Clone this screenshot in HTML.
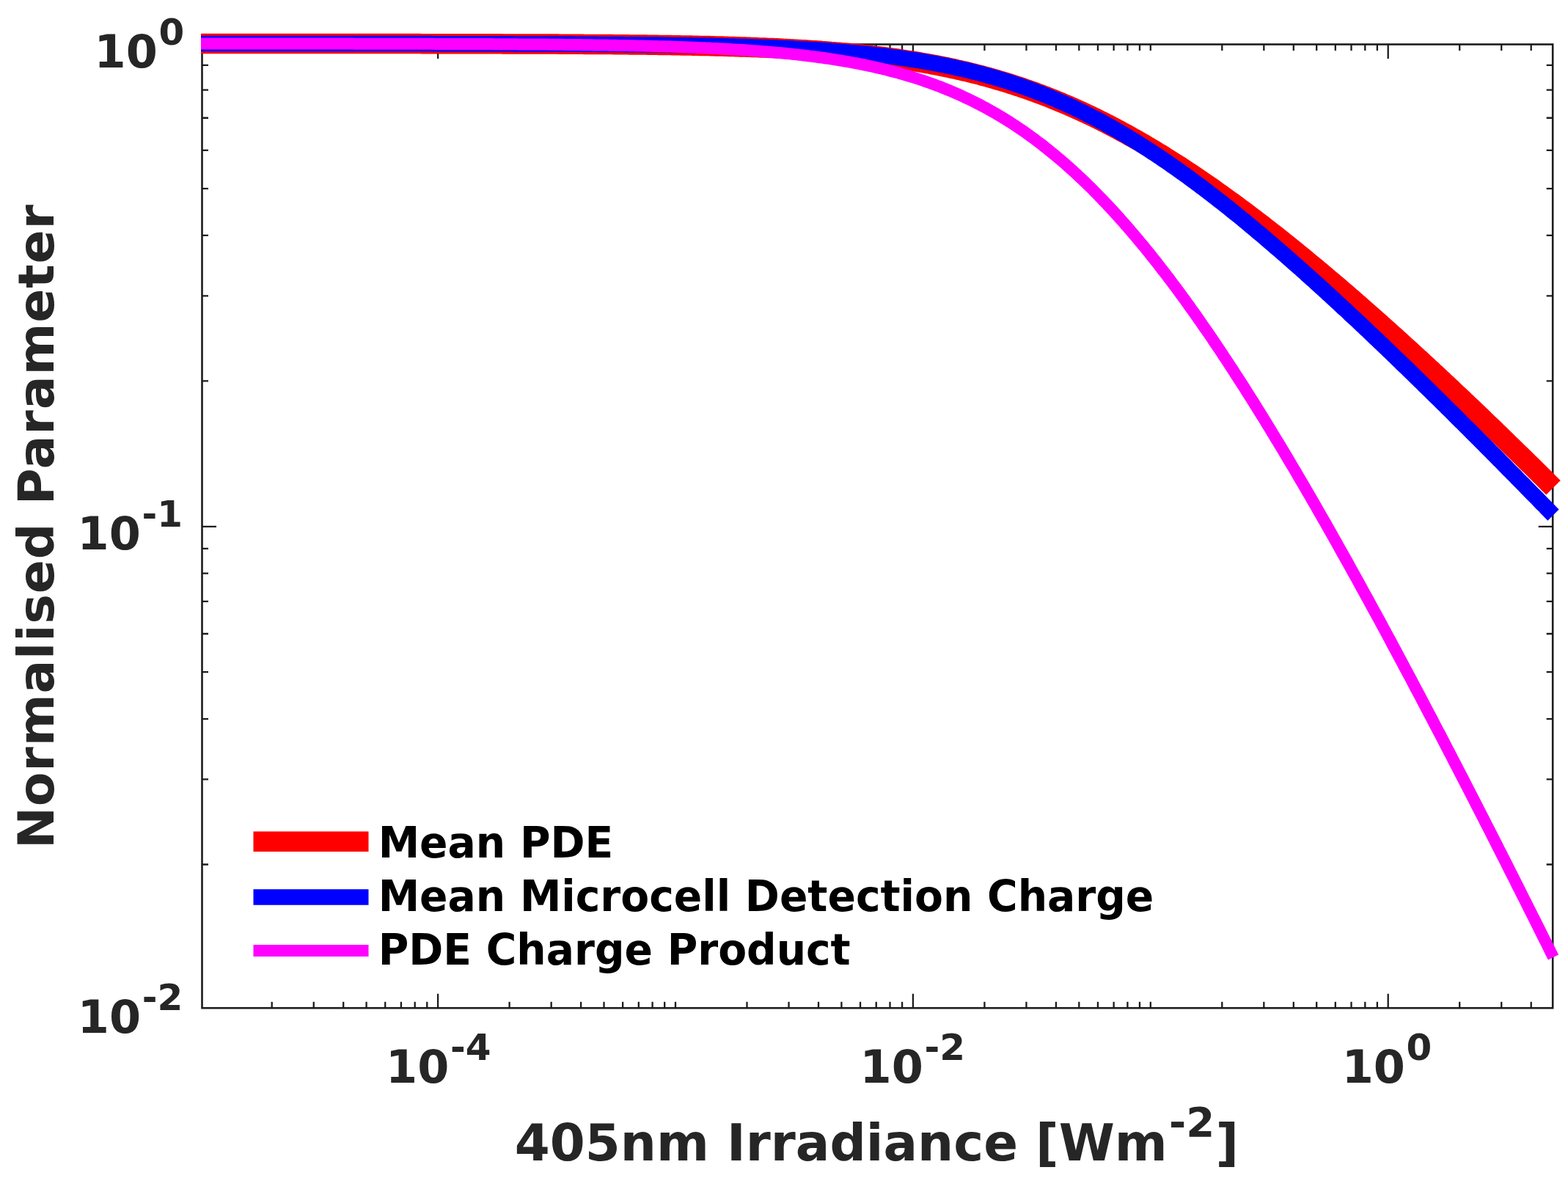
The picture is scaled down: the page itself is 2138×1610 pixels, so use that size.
<!DOCTYPE html><html><head><meta charset="utf-8"><style>html,body{margin:0;padding:0;background:#fff;width:2138px;height:1610px;overflow:hidden}svg{display:block}</style></head><body><svg width="2138" height="1610" viewBox="0 0 2138 1610">
<rect width="2138" height="1610" fill="#fff"/>
<rect x="275.5" y="60.5" width="1841.6999999999998" height="1313.7" fill="none" stroke="#1c1c1c" stroke-width="2.6"/>
<path d="M370.70,1374.2V1365.70M370.70,60.5V69.00M427.74,1374.2V1365.70M427.74,60.5V69.00M468.21,1374.2V1365.70M468.21,60.5V69.00M499.60,1374.2V1365.70M499.60,60.5V69.00M525.24,1374.2V1365.70M525.24,60.5V69.00M546.93,1374.2V1365.70M546.93,60.5V69.00M565.71,1374.2V1365.70M565.71,60.5V69.00M582.28,1374.2V1365.70M582.28,60.5V69.00M597.10,1374.2V1354.70M597.10,60.5V80.00M694.60,1374.2V1365.70M694.60,60.5V69.00M751.64,1374.2V1365.70M751.64,60.5V69.00M792.11,1374.2V1365.70M792.11,60.5V69.00M823.50,1374.2V1365.70M823.50,60.5V69.00M849.14,1374.2V1365.70M849.14,60.5V69.00M870.83,1374.2V1365.70M870.83,60.5V69.00M889.61,1374.2V1365.70M889.61,60.5V69.00M906.18,1374.2V1365.70M906.18,60.5V69.00M921.00,1374.2V1365.70M921.00,60.5V69.00M1018.50,1374.2V1365.70M1018.50,60.5V69.00M1075.54,1374.2V1365.70M1075.54,60.5V69.00M1116.01,1374.2V1365.70M1116.01,60.5V69.00M1147.40,1374.2V1365.70M1147.40,60.5V69.00M1173.04,1374.2V1365.70M1173.04,60.5V69.00M1194.73,1374.2V1365.70M1194.73,60.5V69.00M1213.51,1374.2V1365.70M1213.51,60.5V69.00M1230.08,1374.2V1365.70M1230.08,60.5V69.00M1244.90,1374.2V1354.70M1244.90,60.5V80.00M1342.40,1374.2V1365.70M1342.40,60.5V69.00M1399.44,1374.2V1365.70M1399.44,60.5V69.00M1439.91,1374.2V1365.70M1439.91,60.5V69.00M1471.30,1374.2V1365.70M1471.30,60.5V69.00M1496.94,1374.2V1365.70M1496.94,60.5V69.00M1518.63,1374.2V1365.70M1518.63,60.5V69.00M1537.41,1374.2V1365.70M1537.41,60.5V69.00M1553.98,1374.2V1365.70M1553.98,60.5V69.00M1568.80,1374.2V1365.70M1568.80,60.5V69.00M1666.30,1374.2V1365.70M1666.30,60.5V69.00M1723.34,1374.2V1365.70M1723.34,60.5V69.00M1763.81,1374.2V1365.70M1763.81,60.5V69.00M1795.20,1374.2V1365.70M1795.20,60.5V69.00M1820.84,1374.2V1365.70M1820.84,60.5V69.00M1842.53,1374.2V1365.70M1842.53,60.5V69.00M1861.31,1374.2V1365.70M1861.31,60.5V69.00M1877.88,1374.2V1365.70M1877.88,60.5V69.00M1892.70,1374.2V1354.70M1892.70,60.5V80.00M1990.20,1374.2V1365.70M1990.20,60.5V69.00M2047.24,1374.2V1365.70M2047.24,60.5V69.00M2087.71,1374.2V1365.70M2087.71,60.5V69.00M275.5,1178.49H284.00M2117.2,1178.49H2108.70M275.5,1062.42H284.00M2117.2,1062.42H2108.70M275.5,980.07H284.00M2117.2,980.07H2108.70M275.5,916.19H284.00M2117.2,916.19H2108.70M275.5,864.00H284.00M2117.2,864.00H2108.70M275.5,819.88H284.00M2117.2,819.88H2108.70M275.5,781.66H284.00M2117.2,781.66H2108.70M275.5,747.94H284.00M2117.2,747.94H2108.70M275.5,717.78H295.00M2117.2,717.78H2097.70M275.5,519.37H284.00M2117.2,519.37H2108.70M275.5,403.30H284.00M2117.2,403.30H2108.70M275.5,320.95H284.00M2117.2,320.95H2108.70M275.5,257.07H284.00M2117.2,257.07H2108.70M275.5,204.88H284.00M2117.2,204.88H2108.70M275.5,160.76H284.00M2117.2,160.76H2108.70M275.5,122.54H284.00M2117.2,122.54H2108.70M275.5,88.82H284.00M2117.2,88.82H2108.70" stroke="#1c1c1c" stroke-width="2.3" fill="none"/>
<polyline points="274.0,59.5 277.1,59.5 280.2,59.5 283.2,59.5 286.3,59.5 289.4,59.5 292.5,59.5 295.5,59.5 298.6,59.5 301.7,59.5 304.8,59.5 307.9,59.5 310.9,59.5 314.0,59.5 317.1,59.5 320.2,59.5 323.3,59.5 326.3,59.5 329.4,59.5 332.5,59.5 335.6,59.5 338.6,59.5 341.7,59.5 344.8,59.5 347.9,59.5 351.0,59.5 354.0,59.5 357.1,59.5 360.2,59.5 363.3,59.5 366.4,59.5 369.4,59.5 372.5,59.5 375.6,59.5 378.7,59.5 381.7,59.5 384.8,59.5 387.9,59.5 391.0,59.5 394.1,59.5 397.1,59.5 400.2,59.5 403.3,59.5 406.4,59.5 409.5,59.5 412.5,59.5 415.6,59.5 418.7,59.5 421.8,59.5 424.8,59.5 427.9,59.5 431.0,59.5 434.1,59.5 437.2,59.6 440.2,59.6 443.3,59.6 446.4,59.6 449.5,59.6 452.6,59.6 455.6,59.6 458.7,59.6 461.8,59.6 464.9,59.6 467.9,59.6 471.0,59.6 474.1,59.6 477.2,59.6 480.3,59.6 483.3,59.6 486.4,59.6 489.5,59.6 492.6,59.6 495.6,59.6 498.7,59.6 501.8,59.6 504.9,59.6 508.0,59.6 511.0,59.6 514.1,59.6 517.2,59.6 520.3,59.6 523.4,59.6 526.4,59.6 529.5,59.6 532.6,59.6 535.7,59.6 538.7,59.6 541.8,59.6 544.9,59.6 548.0,59.6 551.1,59.6 554.1,59.6 557.2,59.6 560.3,59.6 563.4,59.6 566.5,59.6 569.5,59.6 572.6,59.6 575.7,59.7 578.8,59.7 581.8,59.7 584.9,59.7 588.0,59.7 591.1,59.7 594.2,59.7 597.2,59.7 600.3,59.7 603.4,59.7 606.5,59.7 609.6,59.7 612.6,59.7 615.7,59.7 618.8,59.7 621.9,59.7 624.9,59.7 628.0,59.7 631.1,59.7 634.2,59.7 637.3,59.7 640.3,59.7 643.4,59.8 646.5,59.8 649.6,59.8 652.7,59.8 655.7,59.8 658.8,59.8 661.9,59.8 665.0,59.8 668.0,59.8 671.1,59.8 674.2,59.8 677.3,59.8 680.4,59.8 683.4,59.8 686.5,59.9 689.6,59.9 692.7,59.9 695.7,59.9 698.8,59.9 701.9,59.9 705.0,59.9 708.1,59.9 711.1,59.9 714.2,59.9 717.3,60.0 720.4,60.0 723.5,60.0 726.5,60.0 729.6,60.0 732.7,60.0 735.8,60.0 738.8,60.0 741.9,60.1 745.0,60.1 748.1,60.1 751.2,60.1 754.2,60.1 757.3,60.1 760.4,60.1 763.5,60.2 766.6,60.2 769.6,60.2 772.7,60.2 775.8,60.2 778.9,60.2 781.9,60.3 785.0,60.3 788.1,60.3 791.2,60.3 794.3,60.3 797.3,60.4 800.4,60.4 803.5,60.4 806.6,60.4 809.7,60.4 812.7,60.5 815.8,60.5 818.9,60.5 822.0,60.5 825.0,60.6 828.1,60.6 831.2,60.6 834.3,60.6 837.4,60.7 840.4,60.7 843.5,60.7 846.6,60.7 849.7,60.8 852.8,60.8 855.8,60.8 858.9,60.9 862.0,60.9 865.1,60.9 868.1,61.0 871.2,61.0 874.3,61.0 877.4,61.1 880.5,61.1 883.5,61.2 886.6,61.2 889.7,61.2 892.8,61.3 895.8,61.3 898.9,61.4 902.0,61.4 905.1,61.5 908.2,61.5 911.2,61.6 914.3,61.6 917.4,61.7 920.5,61.7 923.6,61.8 926.6,61.8 929.7,61.9 932.8,61.9 935.9,62.0 938.9,62.0 942.0,62.1 945.1,62.2 948.2,62.2 951.3,62.3 954.3,62.4 957.4,62.4 960.5,62.5 963.6,62.6 966.7,62.6 969.7,62.7 972.8,62.8 975.9,62.9 979.0,63.0 982.0,63.0 985.1,63.1 988.2,63.2 991.3,63.3 994.4,63.4 997.4,63.5 1000.5,63.6 1003.6,63.7 1006.7,63.8 1009.8,63.9 1012.8,64.0 1015.9,64.1 1019.0,64.2 1022.1,64.3 1025.1,64.4 1028.2,64.5 1031.3,64.6 1034.4,64.8 1037.5,64.9 1040.5,65.0 1043.6,65.1 1046.7,65.3 1049.8,65.4 1052.9,65.5 1055.9,65.7 1059.0,65.8 1062.1,66.0 1065.2,66.1 1068.2,66.3 1071.3,66.4 1074.4,66.6 1077.5,66.8 1080.6,66.9 1083.6,67.1 1086.7,67.3 1089.8,67.4 1092.9,67.6 1095.9,67.8 1099.0,68.0 1102.1,68.2 1105.2,68.4 1108.3,68.6 1111.3,68.8 1114.4,69.0 1117.5,69.2 1120.6,69.5 1123.7,69.7 1126.7,69.9 1129.8,70.1 1132.9,70.4 1136.0,70.6 1139.0,70.9 1142.1,71.1 1145.2,71.4 1148.3,71.7 1151.4,71.9 1154.4,72.2 1157.5,72.5 1160.6,72.8 1163.7,73.1 1166.8,73.4 1169.8,73.7 1172.9,74.0 1176.0,74.3 1179.1,74.6 1182.1,75.0 1185.2,75.3 1188.3,75.7 1191.4,76.0 1194.5,76.4 1197.5,76.7 1200.6,77.1 1203.7,77.5 1206.8,77.9 1209.9,78.3 1212.9,78.7 1216.0,79.1 1219.1,79.5 1222.2,79.9 1225.2,80.4 1228.3,80.8 1231.4,81.3 1234.5,81.7 1237.6,82.2 1240.6,82.7 1243.7,83.1 1246.8,83.6 1249.9,84.1 1253.0,84.6 1256.0,85.2 1259.1,85.7 1262.2,86.2 1265.3,86.8 1268.3,87.3 1271.4,87.9 1274.5,88.5 1277.6,89.1 1280.7,89.7 1283.7,90.3 1286.8,90.9 1289.9,91.5 1293.0,92.2 1296.1,92.8 1299.1,93.5 1302.2,94.2 1305.3,94.9 1308.4,95.5 1311.4,96.3 1314.5,97.0 1317.6,97.7 1320.7,98.4 1323.8,99.2 1326.8,100.0 1329.9,100.7 1333.0,101.5 1336.1,102.3 1339.1,103.1 1342.2,104.0 1345.3,104.8 1348.4,105.6 1351.5,106.5 1354.5,107.4 1357.6,108.3 1360.7,109.2 1363.8,110.1 1366.9,111.0 1369.9,111.9 1373.0,112.9 1376.1,113.8 1379.2,114.8 1382.2,115.8 1385.3,116.8 1388.4,117.8 1391.5,118.9 1394.6,119.9 1397.6,121.0 1400.7,122.0 1403.8,123.1 1406.9,124.2 1410.0,125.3 1413.0,126.5 1416.1,127.6 1419.2,128.8 1422.3,129.9 1425.3,131.1 1428.4,132.3 1431.5,133.5 1434.6,134.7 1437.7,136.0 1440.7,137.2 1443.8,138.5 1446.9,139.8 1450.0,141.1 1453.1,142.4 1456.1,143.7 1459.2,145.0 1462.3,146.4 1465.4,147.8 1468.4,149.1 1471.5,150.5 1474.6,151.9 1477.7,153.4 1480.8,154.8 1483.8,156.2 1486.9,157.7 1490.0,159.2 1493.1,160.7 1496.2,162.2 1499.2,163.7 1502.3,165.2 1505.4,166.8 1508.5,168.4 1511.5,169.9 1514.6,171.5 1517.7,173.1 1520.8,174.8 1523.9,176.4 1526.9,178.0 1530.0,179.7 1533.1,181.4 1536.2,183.0 1539.2,184.7 1542.3,186.5 1545.4,188.2 1548.5,189.9 1551.6,191.7 1554.6,193.4 1557.7,195.2 1560.8,197.0 1563.9,198.8 1567.0,200.6 1570.0,202.5 1573.1,204.3 1576.2,206.2 1579.3,208.1 1582.3,209.9 1585.4,211.8 1588.5,213.7 1591.6,215.7 1594.7,217.6 1597.7,219.5 1600.8,221.5 1603.9,223.5 1607.0,225.4 1610.1,227.4 1613.1,229.4 1616.2,231.5 1619.3,233.5 1622.4,235.5 1625.4,237.6 1628.5,239.6 1631.6,241.7 1634.7,243.8 1637.8,245.9 1640.8,248.0 1643.9,250.1 1647.0,252.3 1650.1,254.4 1653.2,256.5 1656.2,258.7 1659.3,260.9 1662.4,263.1 1665.5,265.3 1668.5,267.5 1671.6,269.7 1674.7,271.9 1677.8,274.1 1680.9,276.4 1683.9,278.6 1687.0,280.9 1690.1,283.2 1693.2,285.5 1696.3,287.7 1699.3,290.1 1702.4,292.4 1705.5,294.7 1708.6,297.0 1711.6,299.4 1714.7,301.7 1717.8,304.1 1720.9,306.4 1724.0,308.8 1727.0,311.2 1730.1,313.6 1733.2,316.0 1736.3,318.4 1739.3,320.8 1742.4,323.3 1745.5,325.7 1748.6,328.1 1751.7,330.6 1754.7,333.0 1757.8,335.5 1760.9,338.0 1764.0,340.5 1767.1,343.0 1770.1,345.5 1773.2,348.0 1776.3,350.5 1779.4,353.0 1782.4,355.6 1785.5,358.1 1788.6,360.6 1791.7,363.2 1794.8,365.7 1797.8,368.3 1800.9,370.9 1804.0,373.5 1807.1,376.1 1810.2,378.7 1813.2,381.3 1816.3,383.9 1819.4,386.5 1822.5,389.1 1825.5,391.7 1828.6,394.4 1831.7,397.0 1834.8,399.7 1837.9,402.3 1840.9,405.0 1844.0,407.6 1847.1,410.3 1850.2,413.0 1853.3,415.7 1856.3,418.4 1859.4,421.1 1862.5,423.8 1865.6,426.5 1868.6,429.2 1871.7,431.9 1874.8,434.6 1877.9,437.4 1881.0,440.1 1884.0,442.9 1887.1,445.6 1890.2,448.4 1893.3,451.1 1896.4,453.9 1899.4,456.7 1902.5,459.4 1905.6,462.2 1908.7,465.0 1911.7,467.8 1914.8,470.6 1917.9,473.4 1921.0,476.2 1924.1,479.0 1927.1,481.8 1930.2,484.6 1933.3,487.5 1936.4,490.3 1939.4,493.1 1942.5,496.0 1945.6,498.8 1948.7,501.7 1951.8,504.5 1954.8,507.4 1957.9,510.2 1961.0,513.1 1964.1,516.0 1967.2,518.9 1970.2,521.7 1973.3,524.6 1976.4,527.5 1979.5,530.4 1982.5,533.3 1985.6,536.2 1988.7,539.1 1991.8,542.0 1994.9,544.9 1997.9,547.9 2001.0,550.8 2004.1,553.7 2007.2,556.6 2010.3,559.6 2013.3,562.5 2016.4,565.5 2019.5,568.4 2022.6,571.4 2025.6,574.3 2028.7,577.3 2031.8,580.2 2034.9,583.2 2038.0,586.2 2041.0,589.2 2044.1,592.1 2047.2,595.1 2050.3,598.1 2053.4,601.1 2056.4,604.1 2059.5,607.1 2062.6,610.1 2065.7,613.1 2068.7,616.1 2071.8,619.1 2074.9,622.1 2078.0,625.1 2081.1,628.2 2084.1,631.2 2087.2,634.2 2090.3,637.2 2093.4,640.3 2096.5,643.3 2099.5,646.4 2102.6,649.4 2105.7,652.4 2108.8,655.5 2111.8,658.6 2114.9,661.6 2118.0,664.7" fill="none" stroke="#ff0000" stroke-width="27.5" stroke-linejoin="round" stroke-linecap="butt"/>
<polyline points="274.0,59.5 277.1,59.5 280.2,59.5 283.2,59.5 286.3,59.5 289.4,59.5 292.5,59.5 295.5,59.5 298.6,59.5 301.7,59.5 304.8,59.5 307.9,59.5 310.9,59.5 314.0,59.5 317.1,59.5 320.2,59.5 323.3,59.5 326.3,59.5 329.4,59.5 332.5,59.5 335.6,59.5 338.6,59.5 341.7,59.5 344.8,59.5 347.9,59.5 351.0,59.5 354.0,59.5 357.1,59.5 360.2,59.5 363.3,59.5 366.4,59.5 369.4,59.5 372.5,59.5 375.6,59.5 378.7,59.5 381.7,59.5 384.8,59.5 387.9,59.5 391.0,59.5 394.1,59.5 397.1,59.5 400.2,59.5 403.3,59.5 406.4,59.5 409.5,59.5 412.5,59.5 415.6,59.5 418.7,59.5 421.8,59.5 424.8,59.5 427.9,59.5 431.0,59.5 434.1,59.5 437.2,59.5 440.2,59.5 443.3,59.5 446.4,59.5 449.5,59.5 452.6,59.6 455.6,59.6 458.7,59.6 461.8,59.6 464.9,59.6 467.9,59.6 471.0,59.6 474.1,59.6 477.2,59.6 480.3,59.6 483.3,59.6 486.4,59.6 489.5,59.6 492.6,59.6 495.6,59.6 498.7,59.6 501.8,59.6 504.9,59.6 508.0,59.6 511.0,59.6 514.1,59.6 517.2,59.6 520.3,59.6 523.4,59.6 526.4,59.6 529.5,59.6 532.6,59.6 535.7,59.6 538.7,59.6 541.8,59.6 544.9,59.6 548.0,59.6 551.1,59.6 554.1,59.6 557.2,59.6 560.3,59.6 563.4,59.6 566.5,59.6 569.5,59.6 572.6,59.6 575.7,59.6 578.8,59.6 581.8,59.6 584.9,59.6 588.0,59.6 591.1,59.7 594.2,59.7 597.2,59.7 600.3,59.7 603.4,59.7 606.5,59.7 609.6,59.7 612.6,59.7 615.7,59.7 618.8,59.7 621.9,59.7 624.9,59.7 628.0,59.7 631.1,59.7 634.2,59.7 637.3,59.7 640.3,59.7 643.4,59.7 646.5,59.7 649.6,59.7 652.7,59.7 655.7,59.7 658.8,59.8 661.9,59.8 665.0,59.8 668.0,59.8 671.1,59.8 674.2,59.8 677.3,59.8 680.4,59.8 683.4,59.8 686.5,59.8 689.6,59.8 692.7,59.8 695.7,59.8 698.8,59.8 701.9,59.9 705.0,59.9 708.1,59.9 711.1,59.9 714.2,59.9 717.3,59.9 720.4,59.9 723.5,59.9 726.5,59.9 729.6,59.9 732.7,60.0 735.8,60.0 738.8,60.0 741.9,60.0 745.0,60.0 748.1,60.0 751.2,60.0 754.2,60.0 757.3,60.0 760.4,60.1 763.5,60.1 766.6,60.1 769.6,60.1 772.7,60.1 775.8,60.1 778.9,60.1 781.9,60.2 785.0,60.2 788.1,60.2 791.2,60.2 794.3,60.2 797.3,60.2 800.4,60.3 803.5,60.3 806.6,60.3 809.7,60.3 812.7,60.3 815.8,60.4 818.9,60.4 822.0,60.4 825.0,60.4 828.1,60.5 831.2,60.5 834.3,60.5 837.4,60.5 840.4,60.5 843.5,60.6 846.6,60.6 849.7,60.6 852.8,60.7 855.8,60.7 858.9,60.7 862.0,60.7 865.1,60.8 868.1,60.8 871.2,60.8 874.3,60.9 877.4,60.9 880.5,60.9 883.5,61.0 886.6,61.0 889.7,61.0 892.8,61.1 895.8,61.1 898.9,61.1 902.0,61.2 905.1,61.2 908.2,61.3 911.2,61.3 914.3,61.4 917.4,61.4 920.5,61.4 923.6,61.5 926.6,61.5 929.7,61.6 932.8,61.6 935.9,61.7 938.9,61.7 942.0,61.8 945.1,61.9 948.2,61.9 951.3,62.0 954.3,62.0 957.4,62.1 960.5,62.1 963.6,62.2 966.7,62.3 969.7,62.3 972.8,62.4 975.9,62.5 979.0,62.5 982.0,62.6 985.1,62.7 988.2,62.8 991.3,62.8 994.4,62.9 997.4,63.0 1000.5,63.1 1003.6,63.2 1006.7,63.3 1009.8,63.4 1012.8,63.4 1015.9,63.5 1019.0,63.6 1022.1,63.7 1025.1,63.8 1028.2,63.9 1031.3,64.0 1034.4,64.2 1037.5,64.3 1040.5,64.4 1043.6,64.5 1046.7,64.6 1049.8,64.7 1052.9,64.9 1055.9,65.0 1059.0,65.1 1062.1,65.2 1065.2,65.4 1068.2,65.5 1071.3,65.7 1074.4,65.8 1077.5,65.9 1080.6,66.1 1083.6,66.3 1086.7,66.4 1089.8,66.6 1092.9,66.7 1095.9,66.9 1099.0,67.1 1102.1,67.3 1105.2,67.4 1108.3,67.6 1111.3,67.8 1114.4,68.0 1117.5,68.2 1120.6,68.4 1123.7,68.6 1126.7,68.8 1129.8,69.0 1132.9,69.3 1136.0,69.5 1139.0,69.7 1142.1,69.9 1145.2,70.2 1148.3,70.4 1151.4,70.7 1154.4,70.9 1157.5,71.2 1160.6,71.5 1163.7,71.7 1166.8,72.0 1169.8,72.3 1172.9,72.6 1176.0,72.9 1179.1,73.2 1182.1,73.5 1185.2,73.8 1188.3,74.2 1191.4,74.5 1194.5,74.8 1197.5,75.2 1200.6,75.5 1203.7,75.9 1206.8,76.2 1209.9,76.6 1212.9,77.0 1216.0,77.4 1219.1,77.8 1222.2,78.2 1225.2,78.6 1228.3,79.0 1231.4,79.4 1234.5,79.9 1237.6,80.3 1240.6,80.8 1243.7,81.3 1246.8,81.7 1249.9,82.2 1253.0,82.7 1256.0,83.2 1259.1,83.7 1262.2,84.2 1265.3,84.8 1268.3,85.3 1271.4,85.9 1274.5,86.4 1277.6,87.0 1280.7,87.6 1283.7,88.2 1286.8,88.8 1289.9,89.4 1293.0,90.0 1296.1,90.7 1299.1,91.3 1302.2,92.0 1305.3,92.7 1308.4,93.4 1311.4,94.1 1314.5,94.8 1317.6,95.5 1320.7,96.2 1323.8,97.0 1326.8,97.8 1329.9,98.5 1333.0,99.3 1336.1,100.1 1339.1,100.9 1342.2,101.8 1345.3,102.6 1348.4,103.5 1351.5,104.3 1354.5,105.2 1357.6,106.1 1360.7,107.1 1363.8,108.0 1366.9,108.9 1369.9,109.9 1373.0,110.9 1376.1,111.8 1379.2,112.8 1382.2,113.9 1385.3,114.9 1388.4,115.9 1391.5,117.0 1394.6,118.1 1397.6,119.2 1400.7,120.3 1403.8,121.4 1406.9,122.6 1410.0,123.7 1413.0,124.9 1416.1,126.1 1419.2,127.3 1422.3,128.5 1425.3,129.8 1428.4,131.0 1431.5,132.3 1434.6,133.6 1437.7,134.9 1440.7,136.2 1443.8,137.6 1446.9,138.9 1450.0,140.3 1453.1,141.7 1456.1,143.1 1459.2,144.5 1462.3,145.9 1465.4,147.4 1468.4,148.9 1471.5,150.4 1474.6,151.9 1477.7,153.4 1480.8,154.9 1483.8,156.5 1486.9,158.1 1490.0,159.7 1493.1,161.3 1496.2,162.9 1499.2,164.5 1502.3,166.2 1505.4,167.9 1508.5,169.6 1511.5,171.3 1514.6,173.0 1517.7,174.7 1520.8,176.5 1523.9,178.3 1526.9,180.0 1530.0,181.9 1533.1,183.7 1536.2,185.5 1539.2,187.4 1542.3,189.2 1545.4,191.1 1548.5,193.0 1551.6,194.9 1554.6,196.9 1557.7,198.8 1560.8,200.8 1563.9,202.7 1567.0,204.7 1570.0,206.7 1573.1,208.8 1576.2,210.8 1579.3,212.9 1582.3,214.9 1585.4,217.0 1588.5,219.1 1591.6,221.2 1594.7,223.3 1597.7,225.5 1600.8,227.6 1603.9,229.8 1607.0,232.0 1610.1,234.2 1613.1,236.4 1616.2,238.6 1619.3,240.8 1622.4,243.1 1625.4,245.3 1628.5,247.6 1631.6,249.9 1634.7,252.2 1637.8,254.5 1640.8,256.8 1643.9,259.1 1647.0,261.5 1650.1,263.8 1653.2,266.2 1656.2,268.6 1659.3,271.0 1662.4,273.4 1665.5,275.8 1668.5,278.2 1671.6,280.7 1674.7,283.1 1677.8,285.6 1680.9,288.1 1683.9,290.5 1687.0,293.0 1690.1,295.5 1693.2,298.0 1696.3,300.6 1699.3,303.1 1702.4,305.6 1705.5,308.2 1708.6,310.8 1711.6,313.3 1714.7,315.9 1717.8,318.5 1720.9,321.1 1724.0,323.7 1727.0,326.3 1730.1,328.9 1733.2,331.6 1736.3,334.2 1739.3,336.9 1742.4,339.5 1745.5,342.2 1748.6,344.9 1751.7,347.5 1754.7,350.2 1757.8,352.9 1760.9,355.6 1764.0,358.4 1767.1,361.1 1770.1,363.8 1773.2,366.5 1776.3,369.3 1779.4,372.0 1782.4,374.8 1785.5,377.6 1788.6,380.3 1791.7,383.1 1794.8,385.9 1797.8,388.7 1800.9,391.5 1804.0,394.3 1807.1,397.1 1810.2,399.9 1813.2,402.7 1816.3,405.5 1819.4,408.4 1822.5,411.2 1825.5,414.1 1828.6,416.9 1831.7,419.8 1834.8,422.6 1837.9,425.5 1840.9,428.4 1844.0,431.3 1847.1,434.1 1850.2,437.0 1853.3,439.9 1856.3,442.8 1859.4,445.7 1862.5,448.6 1865.6,451.5 1868.6,454.5 1871.7,457.4 1874.8,460.3 1877.9,463.2 1881.0,466.2 1884.0,469.1 1887.1,472.1 1890.2,475.0 1893.3,478.0 1896.4,480.9 1899.4,483.9 1902.5,486.9 1905.6,489.8 1908.7,492.8 1911.7,495.8 1914.8,498.8 1917.9,501.7 1921.0,504.7 1924.1,507.7 1927.1,510.7 1930.2,513.7 1933.3,516.7 1936.4,519.7 1939.4,522.7 1942.5,525.8 1945.6,528.8 1948.7,531.8 1951.8,534.8 1954.8,537.8 1957.9,540.9 1961.0,543.9 1964.1,547.0 1967.2,550.0 1970.2,553.0 1973.3,556.1 1976.4,559.1 1979.5,562.2 1982.5,565.2 1985.6,568.3 1988.7,571.4 1991.8,574.4 1994.9,577.5 1997.9,580.6 2001.0,583.6 2004.1,586.7 2007.2,589.8 2010.3,592.9 2013.3,595.9 2016.4,599.0 2019.5,602.1 2022.6,605.2 2025.6,608.3 2028.7,611.4 2031.8,614.5 2034.9,617.6 2038.0,620.7 2041.0,623.8 2044.1,626.9 2047.2,630.0 2050.3,633.1 2053.4,636.3 2056.4,639.4 2059.5,642.5 2062.6,645.6 2065.7,648.7 2068.7,651.9 2071.8,655.0 2074.9,658.1 2078.0,661.2 2081.1,664.4 2084.1,667.5 2087.2,670.7 2090.3,673.8 2093.4,676.9 2096.5,680.1 2099.5,683.2 2102.6,686.4 2105.7,689.5 2108.8,692.7 2111.8,695.8 2114.9,699.0 2118.0,702.1" fill="none" stroke="#0000ff" stroke-width="21.5" stroke-linejoin="round" stroke-linecap="butt"/>
<polyline points="274.0,59.5 277.1,59.5 280.2,59.5 283.2,59.5 286.3,59.5 289.4,59.5 292.5,59.5 295.5,59.5 298.6,59.5 301.7,59.5 304.8,59.5 307.9,59.5 310.9,59.5 314.0,59.5 317.1,59.5 320.2,59.5 323.3,59.5 326.3,59.5 329.4,59.5 332.5,59.5 335.6,59.5 338.6,59.6 341.7,59.6 344.8,59.6 347.9,59.6 351.0,59.6 354.0,59.6 357.1,59.6 360.2,59.6 363.3,59.6 366.4,59.6 369.4,59.6 372.5,59.6 375.6,59.6 378.7,59.6 381.7,59.6 384.8,59.6 387.9,59.6 391.0,59.6 394.1,59.6 397.1,59.6 400.2,59.6 403.3,59.6 406.4,59.6 409.5,59.6 412.5,59.6 415.6,59.6 418.7,59.6 421.8,59.6 424.8,59.6 427.9,59.6 431.0,59.6 434.1,59.6 437.2,59.6 440.2,59.6 443.3,59.6 446.4,59.6 449.5,59.6 452.6,59.6 455.6,59.6 458.7,59.6 461.8,59.6 464.9,59.6 467.9,59.6 471.0,59.6 474.1,59.6 477.2,59.6 480.3,59.6 483.3,59.7 486.4,59.7 489.5,59.7 492.6,59.7 495.6,59.7 498.7,59.7 501.8,59.7 504.9,59.7 508.0,59.7 511.0,59.7 514.1,59.7 517.2,59.7 520.3,59.7 523.4,59.7 526.4,59.7 529.5,59.7 532.6,59.7 535.7,59.7 538.7,59.7 541.8,59.7 544.9,59.7 548.0,59.8 551.1,59.8 554.1,59.8 557.2,59.8 560.3,59.8 563.4,59.8 566.5,59.8 569.5,59.8 572.6,59.8 575.7,59.8 578.8,59.8 581.8,59.8 584.9,59.8 588.0,59.8 591.1,59.8 594.2,59.9 597.2,59.9 600.3,59.9 603.4,59.9 606.5,59.9 609.6,59.9 612.6,59.9 615.7,59.9 618.8,59.9 621.9,59.9 624.9,60.0 628.0,60.0 631.1,60.0 634.2,60.0 637.3,60.0 640.3,60.0 643.4,60.0 646.5,60.0 649.6,60.0 652.7,60.1 655.7,60.1 658.8,60.1 661.9,60.1 665.0,60.1 668.0,60.1 671.1,60.1 674.2,60.2 677.3,60.2 680.4,60.2 683.4,60.2 686.5,60.2 689.6,60.2 692.7,60.3 695.7,60.3 698.8,60.3 701.9,60.3 705.0,60.3 708.1,60.4 711.1,60.4 714.2,60.4 717.3,60.4 720.4,60.4 723.5,60.5 726.5,60.5 729.6,60.5 732.7,60.5 735.8,60.6 738.8,60.6 741.9,60.6 745.0,60.6 748.1,60.7 751.2,60.7 754.2,60.7 757.3,60.7 760.4,60.8 763.5,60.8 766.6,60.8 769.6,60.9 772.7,60.9 775.8,60.9 778.9,61.0 781.9,61.0 785.0,61.0 788.1,61.1 791.2,61.1 794.3,61.2 797.3,61.2 800.4,61.2 803.5,61.3 806.6,61.3 809.7,61.4 812.7,61.4 815.8,61.4 818.9,61.5 822.0,61.5 825.0,61.6 828.1,61.6 831.2,61.7 834.3,61.7 837.4,61.8 840.4,61.8 843.5,61.9 846.6,62.0 849.7,62.0 852.8,62.1 855.8,62.1 858.9,62.2 862.0,62.3 865.1,62.3 868.1,62.4 871.2,62.5 874.3,62.5 877.4,62.6 880.5,62.7 883.5,62.8 886.6,62.8 889.7,62.9 892.8,63.0 895.8,63.1 898.9,63.2 902.0,63.2 905.1,63.3 908.2,63.4 911.2,63.5 914.3,63.6 917.4,63.7 920.5,63.8 923.6,63.9 926.6,64.0 929.7,64.1 932.8,64.2 935.9,64.3 938.9,64.5 942.0,64.6 945.1,64.7 948.2,64.8 951.3,64.9 954.3,65.1 957.4,65.2 960.5,65.3 963.6,65.5 966.7,65.6 969.7,65.8 972.8,65.9 975.9,66.0 979.0,66.2 982.0,66.4 985.1,66.5 988.2,66.7 991.3,66.8 994.4,67.0 997.4,67.2 1000.5,67.4 1003.6,67.6 1006.7,67.7 1009.8,67.9 1012.8,68.1 1015.9,68.3 1019.0,68.5 1022.1,68.8 1025.1,69.0 1028.2,69.2 1031.3,69.4 1034.4,69.6 1037.5,69.9 1040.5,70.1 1043.6,70.4 1046.7,70.6 1049.8,70.9 1052.9,71.1 1055.9,71.4 1059.0,71.7 1062.1,71.9 1065.2,72.2 1068.2,72.5 1071.3,72.8 1074.4,73.1 1077.5,73.4 1080.6,73.8 1083.6,74.1 1086.7,74.4 1089.8,74.8 1092.9,75.1 1095.9,75.5 1099.0,75.8 1102.1,76.2 1105.2,76.6 1108.3,77.0 1111.3,77.4 1114.4,77.8 1117.5,78.2 1120.6,78.6 1123.7,79.0 1126.7,79.5 1129.8,79.9 1132.9,80.4 1136.0,80.9 1139.0,81.3 1142.1,81.8 1145.2,82.3 1148.3,82.8 1151.4,83.4 1154.4,83.9 1157.5,84.4 1160.6,85.0 1163.7,85.6 1166.8,86.1 1169.8,86.7 1172.9,87.3 1176.0,87.9 1179.1,88.6 1182.1,89.2 1185.2,89.9 1188.3,90.5 1191.4,91.2 1194.5,91.9 1197.5,92.6 1200.6,93.3 1203.7,94.1 1206.8,94.8 1209.9,95.6 1212.9,96.4 1216.0,97.2 1219.1,98.0 1222.2,98.8 1225.2,99.6 1228.3,100.5 1231.4,101.4 1234.5,102.3 1237.6,103.2 1240.6,104.1 1243.7,105.0 1246.8,106.0 1249.9,107.0 1253.0,108.0 1256.0,109.0 1259.1,110.0 1262.2,111.1 1265.3,112.2 1268.3,113.3 1271.4,114.4 1274.5,115.5 1277.6,116.7 1280.7,117.8 1283.7,119.0 1286.8,120.3 1289.9,121.5 1293.0,122.8 1296.1,124.0 1299.1,125.3 1302.2,126.7 1305.3,128.0 1308.4,129.4 1311.4,130.8 1314.5,132.2 1317.6,133.7 1320.7,135.1 1323.8,136.6 1326.8,138.1 1329.9,139.7 1333.0,141.3 1336.1,142.8 1339.1,144.5 1342.2,146.1 1345.3,147.8 1348.4,149.5 1351.5,151.2 1354.5,152.9 1357.6,154.7 1360.7,156.5 1363.8,158.4 1366.9,160.2 1369.9,162.1 1373.0,164.0 1376.1,165.9 1379.2,167.9 1382.2,169.9 1385.3,171.9 1388.4,174.0 1391.5,176.1 1394.6,178.2 1397.6,180.3 1400.7,182.5 1403.8,184.7 1406.9,186.9 1410.0,189.2 1413.0,191.5 1416.1,193.8 1419.2,196.2 1422.3,198.5 1425.3,201.0 1428.4,203.4 1431.5,205.9 1434.6,208.4 1437.7,210.9 1440.7,213.5 1443.8,216.1 1446.9,218.7 1450.0,221.3 1453.1,224.0 1456.1,226.7 1459.2,229.5 1462.3,232.3 1465.4,235.1 1468.4,237.9 1471.5,240.8 1474.6,243.7 1477.7,246.6 1480.8,249.6 1483.8,252.6 1486.9,255.6 1490.0,258.7 1493.1,261.8 1496.2,264.9 1499.2,268.1 1502.3,271.2 1505.4,274.5 1508.5,277.7 1511.5,281.0 1514.6,284.3 1517.7,287.6 1520.8,291.0 1523.9,294.4 1526.9,297.8 1530.0,301.3 1533.1,304.7 1536.2,308.3 1539.2,311.8 1542.3,315.4 1545.4,319.0 1548.5,322.6 1551.6,326.3 1554.6,330.0 1557.7,333.7 1560.8,337.4 1563.9,341.2 1567.0,345.0 1570.0,348.9 1573.1,352.7 1576.2,356.6 1579.3,360.5 1582.3,364.5 1585.4,368.4 1588.5,372.4 1591.6,376.5 1594.7,380.5 1597.7,384.6 1600.8,388.7 1603.9,392.8 1607.0,397.0 1610.1,401.2 1613.1,405.4 1616.2,409.6 1619.3,413.9 1622.4,418.2 1625.4,422.5 1628.5,426.8 1631.6,431.2 1634.7,435.6 1637.8,440.0 1640.8,444.4 1643.9,448.8 1647.0,453.3 1650.1,457.8 1653.2,462.3 1656.2,466.9 1659.3,471.5 1662.4,476.0 1665.5,480.7 1668.5,485.3 1671.6,489.9 1674.7,494.6 1677.8,499.3 1680.9,504.0 1683.9,508.8 1687.0,513.5 1690.1,518.3 1693.2,523.1 1696.3,527.9 1699.3,532.8 1702.4,537.6 1705.5,542.5 1708.6,547.4 1711.6,552.3 1714.7,557.2 1717.8,562.2 1720.9,567.1 1724.0,572.1 1727.0,577.1 1730.1,582.2 1733.2,587.2 1736.3,592.3 1739.3,597.3 1742.4,602.4 1745.5,607.5 1748.6,612.6 1751.7,617.8 1754.7,622.9 1757.8,628.1 1760.9,633.3 1764.0,638.5 1767.1,643.7 1770.1,648.9 1773.2,654.2 1776.3,659.4 1779.4,664.7 1782.4,670.0 1785.5,675.3 1788.6,680.6 1791.7,686.0 1794.8,691.3 1797.8,696.7 1800.9,702.0 1804.0,707.4 1807.1,712.8 1810.2,718.2 1813.2,723.7 1816.3,729.1 1819.4,734.6 1822.5,740.0 1825.5,745.5 1828.6,751.0 1831.7,756.5 1834.8,762.0 1837.9,767.5 1840.9,773.0 1844.0,778.6 1847.1,784.1 1850.2,789.7 1853.3,795.3 1856.3,800.9 1859.4,806.5 1862.5,812.1 1865.6,817.7 1868.6,823.3 1871.7,829.0 1874.8,834.6 1877.9,840.3 1881.0,845.9 1884.0,851.6 1887.1,857.3 1890.2,863.0 1893.3,868.7 1896.4,874.4 1899.4,880.2 1902.5,885.9 1905.6,891.6 1908.7,897.4 1911.7,903.1 1914.8,908.9 1917.9,914.7 1921.0,920.5 1924.1,926.3 1927.1,932.1 1930.2,937.9 1933.3,943.7 1936.4,949.5 1939.4,955.4 1942.5,961.2 1945.6,967.1 1948.7,972.9 1951.8,978.8 1954.8,984.7 1957.9,990.6 1961.0,996.4 1964.1,1002.3 1967.2,1008.2 1970.2,1014.2 1973.3,1020.1 1976.4,1026.0 1979.5,1031.9 1982.5,1037.9 1985.6,1043.8 1988.7,1049.8 1991.8,1055.7 1994.9,1061.7 1997.9,1067.7 2001.0,1073.6 2004.1,1079.6 2007.2,1085.6 2010.3,1091.6 2013.3,1097.6 2016.4,1103.6 2019.5,1109.6 2022.6,1115.6 2025.6,1121.7 2028.7,1127.7 2031.8,1133.7 2034.9,1139.8 2038.0,1145.8 2041.0,1151.9 2044.1,1158.0 2047.2,1164.0 2050.3,1170.1 2053.4,1176.2 2056.4,1182.2 2059.5,1188.3 2062.6,1194.4 2065.7,1200.5 2068.7,1206.6 2071.8,1212.7 2074.9,1218.9 2078.0,1225.0 2081.1,1231.1 2084.1,1237.2 2087.2,1243.4 2090.3,1249.5 2093.4,1255.6 2096.5,1261.8 2099.5,1267.9 2102.6,1274.1 2105.7,1280.3 2108.8,1286.4 2111.8,1292.6 2114.9,1298.8 2118.0,1305.0" fill="none" stroke="#ff00ff" stroke-width="16" stroke-linejoin="round" stroke-linecap="butt"/>
<g font-family="DejaVu Sans, Liberation Sans, sans-serif" font-weight="bold" fill="#262626"><text x="128.6" y="91.6" font-size="62">10</text><text x="216.5" y="60.99999999999999" font-size="50">0</text><text x="105.6" y="748.7" font-size="62">10</text><text x="193.5" y="718.1" font-size="50">-1</text><text x="105.8" y="1407.5" font-size="62">10</text><text x="193.7" y="1376.9" font-size="50">-2</text><text x="526" y="1475.6" font-size="62">10</text><text x="613.9" y="1445.0" font-size="50">-4</text><text x="1172.6" y="1475.6" font-size="62">10</text><text x="1260.5" y="1445.0" font-size="50">-2</text><text x="1829.7" y="1475.6" font-size="62">10</text><text x="1917.6000000000001" y="1445.0" font-size="50">0</text></g>
<g font-family="DejaVu Sans, Liberation Sans, sans-serif" font-weight="bold" fill="#262626"><text x="701.7" y="1581.5" font-size="69" textLength="890" lengthAdjust="spacing">405nm Irradiance [Wm</text><text x="1594.1" y="1549" font-size="56">-2</text><text x="1657.4" y="1581.5" font-size="69">]</text></g>
<text transform="translate(72.7,1157) rotate(-90)" font-family="DejaVu Sans, Liberation Sans, sans-serif" font-weight="bold" fill="#262626" font-size="68" textLength="878" lengthAdjust="spacing">Normalised Parameter</text>
<path d="M345.5,1147.3H502.5" stroke="#ff0000" stroke-width="27.5" fill="none"/>
<text transform="translate(515.7,1168.9) scale(0.9742,1)" font-family="DejaVu Sans, Liberation Sans, sans-serif" font-weight="bold" font-size="58.2" fill="#000">Mean PDE</text>
<path d="M345.5,1223H502.5" stroke="#0000ff" stroke-width="21.5" fill="none"/>
<text transform="translate(515.7,1241.9) scale(0.9742,1)" font-family="DejaVu Sans, Liberation Sans, sans-serif" font-weight="bold" font-size="58.2" fill="#000">Mean Microcell Detection Charge</text>
<path d="M345.5,1296H502.5" stroke="#ff00ff" stroke-width="16" fill="none"/>
<text transform="translate(515.7,1314.9) scale(0.9742,1)" font-family="DejaVu Sans, Liberation Sans, sans-serif" font-weight="bold" font-size="58.2" fill="#000">PDE Charge Product</text>
</svg></body></html>
